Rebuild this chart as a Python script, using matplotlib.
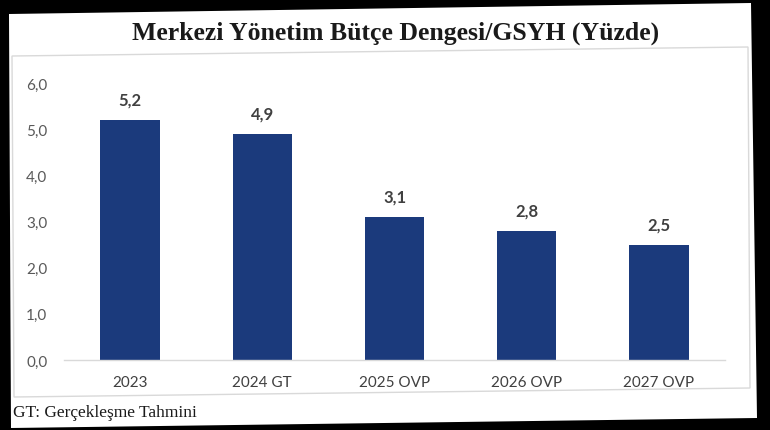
import matplotlib
matplotlib.use("Agg")
import matplotlib.pyplot as plt
from matplotlib.patches import Polygon

categories = ["2023", "2024 GT", "2025 OVP", "2026 OVP", "2027 OVP"]
values = [5.2, 4.9, 3.1, 2.8, 2.5]
value_labels = ["5,2", "4,9", "3,1", "2,8", "2,5"]
yticks = [0, 1, 2, 3, 4, 5, 6]
ytick_labels = ["0,0", "1,0", "2,0", "3,0", "4,0", "5,0", "6,0"]
title = "Merkezi Yönetim Bütçe Dengesi/GSYH (Yüzde)"
footnote = "GT: Gerçekleşme Tahmini"

W, H = 770, 431
fig = plt.figure(figsize=(W / 100, H / 100), dpi=100, facecolor="black")

def fx(x):
    return x / W

def fy(y):
    return 1 - y / H

# white page (slightly tilted photo)
page = Polygon([(fx(9), fy(15)), (fx(751), fy(4)), (fx(757), fy(419)), (fx(11), fy(429))],
               closed=True, transform=fig.transFigure, facecolor="white", edgecolor="none", zorder=-2)
fig.patches.append(page)
# chart border
border = Polygon([(fx(12), fy(57)), (fx(748), fy(48)), (fx(750), fy(389)), (fx(14), fy(398))],
                 closed=True, transform=fig.transFigure, facecolor="none", edgecolor="#d9d9d9",
                 linewidth=1.0, zorder=-1)
fig.patches.append(border)

ax = fig.add_axes([fx(64), fy(361), fx(725) - fx(64), fy(84) - fy(361)])
ax.set_facecolor("none")
x = list(range(len(categories)))
ax.bar(x, values, width=0.45, color="#1b3a7c", zorder=2)
ax.set_xlim(-0.5, len(categories) - 0.5)
ax.set_ylim(0, 6)
ax.set_yticks(yticks)
ax.set_yticklabels(ytick_labels, fontsize=11, color="#595959", family="Lato")
ax.set_xticks(x)
ax.set_xticklabels(categories, fontsize=11, color="#404040", family="Lato")
ax.tick_params(axis="both", length=0)
ax.tick_params(axis="y", pad=12)
ax.tick_params(axis="x", pad=11)
for s in ["top", "right", "left"]:
    ax.spines[s].set_visible(False)
ax.spines["bottom"].set_color("#d9d9d9")
ax.spines["bottom"].set_linewidth(1.0)

for xi, v, lab in zip(x, values, value_labels):
    ax.annotate(lab, (xi, v), xytext=(0, 9), textcoords="offset points", ha="center",
                va="bottom", fontsize=12, fontweight="bold", color="#404040", family="Lato")

fig.text(fx(396), fy(33), title, ha="center", va="center", fontsize=18.5, fontweight="bold",
         color="#1a1a1a", family="Liberation Serif")
fig.text(fx(13), fy(413), footnote, ha="left", va="center", fontsize=12.5,
         color="#1a1a1a", family="Liberation Serif")

fig.savefig("out.png", dpi=100, facecolor="black")
